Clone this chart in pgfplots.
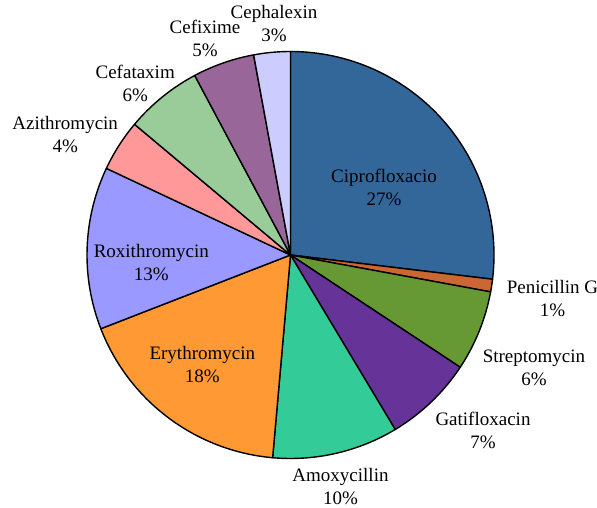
\documentclass[border=0pt]{standalone}
\usepackage{pgfplots}
\usepackage{pgfplotstable}
\pgfplotsset{compat=1.18}
\usepackage{fontspec}
\setmainfont{Liberation Serif}

\definecolor{cCipro}{RGB}{51,102,153}
\definecolor{cPeni}{RGB}{204,102,51}
\definecolor{cStrep}{RGB}{102,153,51}
\definecolor{cGati}{RGB}{102,51,153}
\definecolor{cAmox}{RGB}{51,204,153}
\definecolor{cEry}{RGB}{255,153,51}
\definecolor{cRoxi}{RGB}{153,153,255}
\definecolor{cAzi}{RGB}{255,153,153}
\definecolor{cCefa}{RGB}{153,204,153}
\definecolor{cCefi}{RGB}{153,102,153}
\definecolor{cCeph}{RGB}{204,204,255}

% share (%) of each slice, clockwise from 12 o'clock; label text; label position (image coords)
\pgfplotstableread[col sep=comma]{
name,value,pct,color,lx,ly
Ciprofloxacio,26.9,27,cCipro,384,187.5
Penicillin G,1.0,1,cPeni,552.5,298.7
Streptomycin,6.4,6,cStrep,534,367.5
Gatifloxacin,7.1,7,cGati,483,430.5
Amoxycillin,10.0,10,cAmox,340.5,486.5
Erythromycin,17.7,18,cEry,202.3,364.7
Roxithromycin,12.9,13,cRoxi,151.3,262.2
Azithromycin,4.1,4,cAzi,65.2,134.5
Cefataxim,6.1,6,cCefa,135.2,83
Cefixime,4.9,5,cCefi,205,38.8
Cephalexin,2.9,3,cCeph,274,24
}\piedata

\begin{document}
\begin{tikzpicture}
\useasboundingbox (0,0) rectangle (597pt,508pt);
\begin{axis}[
  at={(0,0)}, anchor=south west,
  x=1pt, y=1pt, y dir=reverse,
  xmin=0, xmax=597, ymin=0, ymax=508,
  scale only axis, hide axis, clip=false,
]
\pgfplotsextra{%
  \gdef\cumangle{90}%
  \foreach \i in {0,...,10}{%
    \pgfplotstablegetelem{\i}{value}\of{\piedata}\let\val\pgfplotsretval
    \pgfplotstablegetelem{\i}{color}\of{\piedata}\let\col\pgfplotsretval
    \pgfmathsetmacro{\endangle}{\cumangle-3.6*\val}%
    \filldraw[fill=\col, draw=black, line width=1.4pt, line join=round]
      (axis cs:290.5,255) -- ++(\cumangle:203.5pt)
      arc[start angle=\cumangle, end angle=\endangle, radius=203.5pt] -- cycle;
    \global\let\cumangle\endangle
  }%
  \foreach \i in {0,...,10}{%
    \pgfplotstablegetelem{\i}{name}\of{\piedata}\let\nm\pgfplotsretval
    \pgfplotstablegetelem{\i}{pct}\of{\piedata}\let\pc\pgfplotsretval
    \pgfplotstablegetelem{\i}{lx}\of{\piedata}\let\lx\pgfplotsretval
    \pgfplotstablegetelem{\i}{ly}\of{\piedata}\let\ly\pgfplotsretval
    \node[align=center, inner sep=0pt, text=black,
      font=\fontsize{19}{23}\selectfont] at (axis cs:\lx,\ly) {\nm\\\pc\%};
  }%
}
\end{axis}
\end{tikzpicture}
\end{document}
